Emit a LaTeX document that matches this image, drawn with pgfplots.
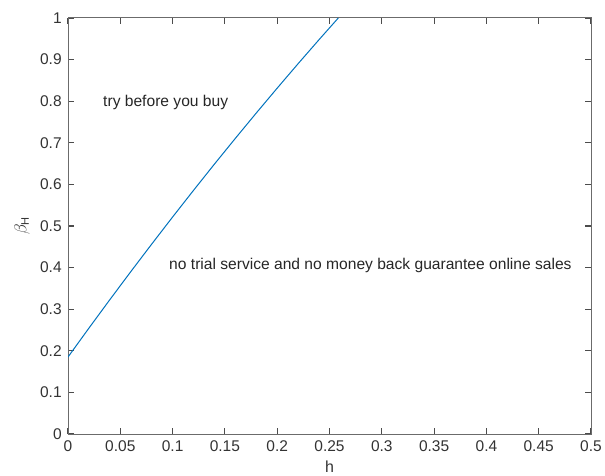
\documentclass[border=0pt]{standalone}
\usepackage{pgfplots}
\pgfplotsset{compat=1.18}
\usepackage{fontspec}
\setmainfont{Liberation Sans}
\definecolor{mblue}{rgb}{0,0.447,0.741}
\definecolor{axgray}{gray}{0.42}
\definecolor{tickgray}{gray}{0.3}
\definecolor{txtgray}{gray}{0.2}
\begin{document}
\fontsize{15.5}{18}\selectfont
\begin{tikzpicture}
\begin{axis}[
  scale only axis,
  width=523pt, height=416pt,
  xmin=0, xmax=0.5, ymin=0, ymax=1,
  xtick={0,0.05,0.1,0.15,0.2,0.25,0.3,0.35,0.4,0.45,0.5},
  xticklabels={0,0.05,0.1,0.15,0.2,0.25,0.3,0.35,0.4,0.45,0.5},
  ytick={0,0.1,0.2,0.3,0.4,0.5,0.6,0.7,0.8,0.9,1},
  yticklabels={0,0.1,0.2,0.3,0.4,0.5,0.6,0.7,0.8,0.9,1},
  tick align=inside,
  xtick pos=both, ytick pos=both,
  xtick style={draw=tickgray, line width=1.1pt},
  ytick style={draw=tickgray, line width=1.1pt},
  major tick length=6pt,
  axis line style={axgray, line width=1pt},
  tick label style={font=\fontsize{15.5}{18}\selectfont, text=txtgray},
  xticklabel style={yshift=-1pt},
  yticklabel style={xshift=-1pt},
  xlabel={h},
  xlabel style={font=\fontsize{16}{18}\selectfont, text=txtgray, at={(axis description cs:0.5,-0.078)}, anchor=center},
  ylabel={$\beta_{\mbox{\fontsize{11}{13}\selectfont H}}$},
  ylabel style={font=\fontsize{18}{20}\selectfont, text=txtgray, at={(axis description cs:-0.088,0.5)}, anchor=center},
  clip=true,
]
\addplot[mblue, line width=1pt] coordinates {
(0,0.185) (0.02,0.2545) (0.04,0.3229) (0.06,0.3902) (0.08,0.4564) (0.1,0.5216) (0.12,0.5857) (0.14,0.6488) (0.16,0.7107) (0.18,0.7716) (0.2,0.8314) (0.22,0.8902) (0.24,0.9479) (0.2584,1.0)
};
\node[anchor=west, font=\fontsize{15.6}{18}\selectfont, text=black!85, inner sep=0pt] at (axis cs:0.0335,0.798) {try before you buy};
\node[anchor=west, font=\fontsize{15.6}{18}\selectfont, text=black!85, inner sep=0pt] at (axis cs:0.0966,0.406) {no trial service and no money back guarantee online sales};
\end{axis}
\pgfresetboundingbox
\path (current axis.south west) ++(-68pt,-41pt) coordinate (bl);
\path (current axis.north east) ++(14pt,18pt) coordinate (tr);
\useasboundingbox (bl) rectangle (tr);
\end{tikzpicture}
\end{document}
